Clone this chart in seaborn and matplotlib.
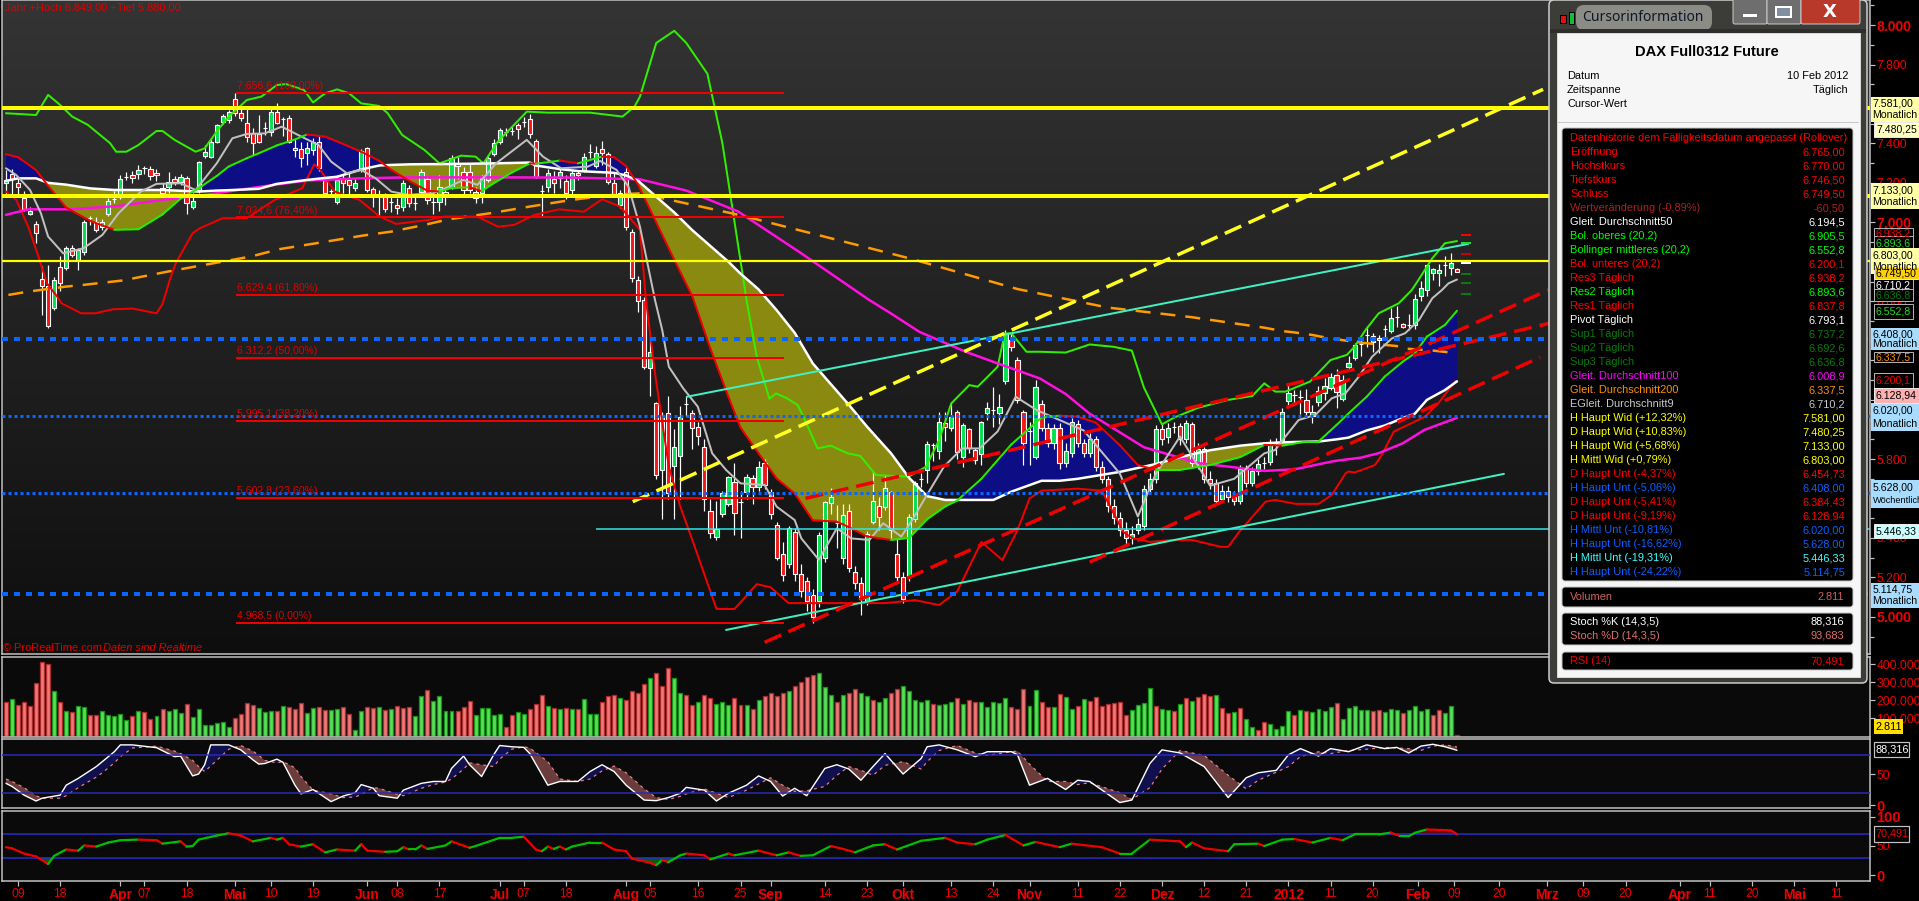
import numpy as np
import pandas as pd
import seaborn as sns
import matplotlib.pyplot as plt
from matplotlib.colors import LinearSegmentedColormap
from matplotlib.patches import FancyBboxPatch, Rectangle

# daily candles
opens = [7198,7245,7198,7122,7041,6992,6712,6675,6564,6776,
         6767,6869,6810,6848,7020,7004,6978,7041,7119,7130,
         7232,7239,7245,7274,7269,7249,7173,7181,7218,7206,
         7223,7076,7164,7338,7333,7409,7511,7519,7624,7553,
         7505,7455,7446,7477,7460,7561,7522,7527,7375,7372,
         7353,7367,7409,7215,7159,7105,7223,7215,7173,7266,
         7375,7169,7139,7130,7105,7088,7076,7173,7100,7156,
         7220,7105,7103,7156,7181,7303,7257,7257,7122,7147,
         7215,7347,7406,7460,7465,7494,7511,7522,7413,7161,
         7181,7218,7223,7210,7164,7252,7266,7358,7286,7370,
         7345,7201,7088,7257,6953,6708,6606,6260,6082,5745,
         6032,5767,5817,6077,6035,5964,5863,5537,5407,5520,
         5572,5685,5581,5635,5706,5660,5778,5635,5464,5320,
         5270,5430,5220,5180,5110,5080,5300,5576,5474,5300,
         5535,5230,5170,5080,5479,5562,5559,5633,5320,5200,
         5200,5496,5700,5745,5871,5842,5981,5956,6040,5809,
         5951,5846,5826,6035,6050,6035,6197,6403,6302,6040,
         5944,5809,6080,5960,5880,5960,5780,5830,5980,5880,
         5830,5900,5760,5700,5560,5500,5440,5400,5440,5460,
         5650,5700,5950,5910,5965,5970,5900,5980,5780,5850,
         5700,5680,5600,5640,5610,5590,5750,5680,5740,5780,
         5787,5883,5897,6096,6125,6117,6100,6018,6088,6133,
         6162,6226,6103,6269,6311,6385,6429,6395,6404,6459,
         6451,6518,6483,6480,6480,6629,6658,6745,6745,6784,
         6771,6765]
closes = [7215,7220,7178,7066,7060,6945,6678,6476,6708,6695,
          6869,6835,6860,7004,7020,6962,7004,7108,7119,7218,
          7232,7223,7266,7274,7237,7239,7151,7206,7206,7232,
          7097,7108,7304,7355,7409,7494,7539,7561,7553,7527,
          7431,7401,7409,7477,7561,7505,7522,7409,7367,7325,
          7375,7409,7274,7147,7159,7215,7198,7190,7201,7363,
          7164,7139,7130,7066,7105,7071,7201,7097,7100,7257,
          7114,7105,7181,7131,7325,7288,7164,7164,7156,7223,
          7325,7404,7468,7460,7465,7472,7511,7446,7232,7161,
          7249,7198,7254,7147,7252,7240,7330,7358,7350,7350,
          7203,7139,7147,6978,6717,6600,6268,6341,5719,6023,
          5630,5863,6015,6077,5956,5917,5598,5424,5444,5626,
          5707,5528,5581,5711,5657,5758,5669,5520,5300,5210,
          5449,5220,5130,5080,5000,5415,5581,5610,5474,5517,
          5250,5170,5090,5420,5588,5508,5652,5440,5200,5090,
          5508,5680,5700,5876,5871,5986,5964,6015,5834,5973,
          5854,5795,5986,6057,6050,6065,6437,6370,6099,5880,
          5944,6163,5960,5880,5960,5780,5840,5990,5880,5830,
          5900,5760,5700,5560,5500,5440,5400,5420,5470,5650,
          5700,5950,5900,5960,5965,5900,5985,5780,5850,5700,
          5680,5590,5640,5610,5590,5750,5680,5740,5775,5780,
          5872,5883,6040,6137,6125,6117,6037,6040,6147,6172,
          6214,6138,6201,6289,6378,6385,6429,6425,6415,6459,
          6513,6518,6471,6480,6610,6666,6784,6762,6756,6784,
          6796,6749.5]
highs = [7265,7270,7230,7160,7080,7005,6780,6785,6725,6830,
         6880,6885,6870,7010,7030,7025,7015,7125,7160,7240,
         7255,7260,7290,7285,7285,7270,7200,7255,7235,7245,
         7235,7150,7310,7390,7420,7500,7550,7570,7656,7590,
         7590,7480,7545,7510,7575,7605,7535,7545,7420,7405,
         7405,7425,7445,7225,7170,7240,7240,7250,7220,7370,
         7380,7180,7165,7150,7145,7125,7215,7190,7130,7270,
         7230,7140,7240,7180,7340,7330,7280,7295,7180,7240,
         7335,7420,7480,7478,7490,7505,7535,7548,7420,7190,
         7270,7260,7270,7240,7260,7265,7350,7395,7385,7410,
         7355,7250,7165,7280,6965,6730,6620,6420,6090,6040,
         6120,5950,6070,6120,6050,5990,5900,5600,5590,5640,
         5715,5780,5640,5725,5720,5790,5800,5650,5480,5380,
         5460,5450,5270,5200,5140,5430,5590,5655,5565,5570,
         5570,5260,5200,5435,5740,5610,5720,5640,5400,5230,
         5520,5690,5730,5890,5880,6040,6040,6090,6050,5985,
         5960,5855,5995,6090,6165,6130,6455,6437,6315,6050,
         5990,6200,6100,5985,5980,5985,5880,6010,6000,5900,
         5930,5915,5790,5715,5600,5530,5480,5460,5500,5670,
         5730,5975,5985,5985,5990,5985,6000,5990,5880,5860,
         5740,5700,5670,5665,5640,5770,5770,5760,5800,5810,
         5900,5905,6060,6175,6150,6150,6157,6075,6170,6210,
         6235,6255,6225,6320,6390,6405,6475,6440,6430,6480,
         6565,6575,6490,6535,6635,6705,6790,6770,6788,6830,
         6845,6770]
lows = [7140,7130,7128,7060,7035,6895,6530,6462,6556,6650,
        6758,6825,6760,6835,6985,6950,6960,7030,7100,7120,
        7215,7200,7220,7245,7215,7210,7130,7150,7190,7190,
        7040,7070,7150,7325,7325,7400,7500,7505,7540,7515,
        7405,7340,7400,7445,7440,7500,7440,7400,7330,7280,
        7290,7340,7260,7140,7130,7095,7140,7140,7160,7255,
        7155,7080,7030,7050,7050,7040,7060,7080,7065,7145,
        7095,7040,7060,7090,7170,7220,7140,7150,7100,7100,
        7205,7335,7395,7440,7445,7420,7485,7425,7225,7030,
        7155,7150,7175,7120,7140,7215,7255,7325,7275,7290,
        7195,7130,7075,6960,6700,6547,6255,6120,5700,5494,
        5600,5494,5600,6020,5850,5870,5535,5400,5390,5505,
        5560,5415,5400,5600,5570,5640,5650,5495,5290,5180,
        5250,5180,5100,5030,4968,5050,5280,5520,5350,5270,
        5230,5140,5010,5060,5470,5440,5540,5400,5180,5070,
        5180,5480,5660,5680,5790,5800,5890,5940,5800,5760,
        5830,5775,5770,6000,5965,5980,6180,6350,6085,5770,
        5770,5800,5940,5860,5850,5750,5760,5810,5860,5810,
        5810,5740,5680,5530,5470,5410,5370,5370,5420,5440,
        5630,5680,5870,5880,5930,5870,5880,5760,5750,5680,
        5650,5570,5580,5580,5565,5570,5660,5665,5720,5750,
        5770,5820,5890,6075,6085,6030,6017,5985,6070,6100,
        6150,6060,6095,6250,6300,6325,6370,6345,6340,6415,
        6440,6470,6465,6455,6460,6600,6625,6710,6678,6730,
        6735,6746.5]

# Bollinger middle and 50 day average share their bars so the cloud can be filled
cloud_x = [0,2,5,7,10,14,18,22,26,29,32,35,37,40,42,45,48,50,53,55,59,62,64,67,70,72,74,77,79,81,84,87,88,92,95,99,101,103,105,
           108,111,114,117,120,122,125,128,131,134,138,140,143,147,150,153,156,158,162,164,167,172,175,178,181,185,188,191,195,
           200,205,209,212,216,218,221,223,226,229,232,234,236,239,241]
boll_mid = [7345,7330,7265,7185,7075,7007,6962,6965,7040,7120,7173,7235,7283,7325,7350,7390,7420,7445,7435,7410,7358,7312,7266,
            7210,7160,7156,7174,7178,7158,7198,7252,7299,7297,7313,7299,7333,7330,7285,7190,
            7000,6810,6625,6360,6115,5960,5829,5702,5626,5490,5483,5455,5408,5390,5400,5495,5560,5590,5700,5770,5875,6010,6020,
            6015,5985,5870,5770,5745,5745,5770,5810,5872,5868,5889,5889,5973,6032,6116,6218,6294,6336,6421,6480,6552]
ma50 = [7210,7223,7223,7200,7191,7172,7164,7164,7164,7160,7156,7161,7163,7167,7170,7195,7207,7215,7225,7231,7268,7288,7291,
        7294,7295,7295,7296,7297,7298,7299,7301,7303,7288,7270,7260,7254,7251,7238,7210,
        7130,7050,6960,6880,6800,6740,6660,6555,6440,6285,6145,6075,5965,5829,5705,5612,5593,5593,5593,5593,5635,5690,5690,
        5700,5715,5735,5755,5775,5810,5845,5868,5880,5885,5888,5889,5900,5909,5945,5970,6008,6030,6100,6150,6194]

upper_x = [0,5,7,9,11,13.6,17.3,18.3,20,22,25,26,28,31.5,33,35,37,40,42.4,45,46.5,49.5,51,53,55,57,59,62,63.4,65.8,69.5,72,73.6,
           75.6,78,79.3,81.7,86.5,90,97,102.4,104.4,105.3,108,111,113,116.5,119,123,124.7,126.8,127.9,129.7,131.5,132.7,134.8,
           137,139.8,141.9,144.5,149.9,152.8,155,157,160,161.4,164.7,165.9,167,169.5,171.7,176,180,184,187,189,192,194,198,203,
           207,209,210.8,212.5,216.6,220,222.7,224,225.8,228,231.3,233.5,234.6,236.9,239,241]
upper_y = [7553,7544,7646,7595,7536,7494,7401,7358,7358,7392,7463,7463,7418,7358,7375,7460,7536,7620,7637,7696,7701,7671,7608,
           7654,7674,7654,7603,7590,7553,7443,7367,7299,7316,7338,7333,7299,7409,7561,7556,7556,7536,7587,7637,7909,7971,7909,
           7753,7400,6606,6319,6106,6133,6108,6074,5998,5854,5868,5829,5816,5719,5711,5761,5897,6082,6175,6167,6268,6437,6437,
           6344,6344,6340,6381,6369,6350,6163,5976,6010,6060,6100,6120,6184,6142,6142,6193,6302,6328,6370,6454,6539,6589,6657,
           6708,6818,6894,6905]
lower_x = [0,1.7,3.7,5.4,6.8,8.5,9.2,12.5,14.8,17.7,21,25,26,27.2,28.2,31,32.2,36,40,44.6,49.2,51.2,52.2,54.6,58.7,62.1,64.8,
           70.2,72.9,78.3,81.7,84.4,87.8,91.9,96,99,102,105.3,106.3,107.8,110.1,112,114,118,121,124.7,127,130,138,146,151,155,
           158,162,165.5,168,170,172,178,182,185.6,187,190,193.6,197,201.8,203,204.8,209.2,210.8,214.2,218,220.2,222.5,223,224,
           227.4,228.5,230.5,235.7,237.9,240.7]
lower_y = [7156,7114,6978,6826,6691,6624,6590,6539,6539,6559,6563,6539,6586,6708,6793,6945,6970,7021,7021,7113,7173,7294,7266,
           7156,7114,7029,6992,7012,7029,7029,6978,6987,7038,7066,7054,7117,7080,6962,6606,6234,5761,5559,5390,5041,5040,5166,
           5150,5070,5070,5070,5085,5060,5130,5380,5288,5440,5600,5640,5650,5640,5430,5400,5380,5390,5390,5355,5355,5430,5584,
           5593,5573,5573,5618,5728,5737,5732,5770,5821,5939,6015,6083,6195]
ma100_x = [0,3.7,10.5,18.7,26,33,42.4,50,58.7,66.8,80.4,94,105.3,113,121.6,131.8,143.4,147,151.7,159.4,164.7,171.7,176,180,189,
           198,209,214,220.6,225,228,232,235.6,241]
ma100_y = [7038,7066,7066,7083,7114,7139,7181,7212,7223,7228,7228,7227,7218,7161,7055,6849,6606,6538,6445,6344,6285,6209,6130,
           6030,5860,5780,5740,5748,5790,5807,5830,5880,5948,6009]
ma200_x = [0.4,3.7,9.9,12.9,19.3,26.8,32.9,40.7,45.4,51.5,59.3,64,69.5,73.6,80.4,87,94,100.7,105.3,122,150,168,183,197,209,212,
           214,217,219,222,225,231,232,237,241]
ma200_y = [6632,6649,6674,6683,6705,6750,6784,6827,6864,6894,6933,6953,6987,7016,7046,7080,7114,7139,7147,7036,6818,6662,6568,
           6519,6466,6449,6442,6429,6417,6403,6390,6373,6361,6350,6337]
ema9_x = [0,1.7,4,5.8,7,9.5,12.9,16,18.7,22.4,25,29,31.5,35,37.6,40,43,45.8,48.5,51.9,54,56.6,59,61.4,64,66.8,70.9,73.6,76,78.3,
          81.4,86.5,89.2,92.2,96.6,98.7,101.4,103.4,105.3,107.8,109,110.1,112.5,114.9,117.3,119.6,122,126,128,131,132.1,135,
          138,140.4,143.4,145.7,148.7,150.5,152.8,155.8,158.8,161.7,164.7,167.7,171.2,179,185,188,191,195,200,204,209,210.8,
          212.5,214.7,217.5,220.2,222.5,224.7,226.9,230.2,232.4,234.7,236.9,238.5,239.6,241]
ema9_y = [7274,7240,7164,7046,6928,6843,6869,6936,7046,7156,7195,7198,7164,7299,7426,7448,7451,7485,7443,7392,7308,7249,7266,
          7223,7156,7139,7147,7181,7215,7190,7299,7418,7333,7274,7282,7311,7266,7181,6978,6606,6454,6268,6158,6066,5829,5745,
          5677,5669,5559,5491,5398,5290,5449,5398,5390,5475,5407,5490,5610,5762,5854,5854,5940,6116,6048,5945,5727,5509,5727,
          5914,5665,5700,5829,5846,5914,5998,6024,6108,6134,6218,6319,6412,6438,6505,6615,6657,6691,6710]

pivot_levels = [6938.2, 6893.6, 6837.8, 6793.1, 6737.2, 6692.6, 6636.8]
pivot_colours = ["#ff0000", "#22dd22", "#cc0000", "#ffffff", "#0a7a0a", "#0a7a0a", "#0a7a0a"]

yellow_levels = [7581, 7133, 6803]
blue_thick_levels = [6408, 5114.75]
blue_dotted_levels = [6020, 5628]
cyan_level = 5446.33
fib_levels = [7656.6, 7024.6, 6629.4, 6312.2, 5995.1, 5602.8, 4968.5]
fib_text = ["7.656,6 (100,00%)", "7.024,6 (76,40%)", "6.629,4 (61,80%)", "6.312,2 (50,00%)",
            "5.995,1 (38,20%)", "5.602,8 (23,60%)", "4.968,5 (0,00%)"]

trend_yellow = ([104.1, 255.3], [5584, 7674])
trend_turq_up = ([113.1, 242.9], [6116, 6891])
trend_turq_low = ([119.6, 248.8], [4934, 5725])
trend_red_a = ([132.8, 258], [5601, 6500])
trend_red_b = ([126, 256.2], [4871, 6657])
trend_red_d = ([180, 254.8], [5278, 6316])

# volume in thousands, r/g per bar
volume = [187,204,170,187,165,292,409,398,248,187,137,131,165,159,115,115,137,115,109,120,87,109,137,131,93,109,148,137,148,126,
          176,104,148,59,59,70,76,48,98,120,181,170,154,131,137,137,165,159,148,181,126,154,159,142,142,148,159,120,31,137,
          159,154,159,142,148,165,154,159,109,220,253,192,220,137,137,137,159,192,115,154,154,115,120,48,115,131,120,148,176,226,
          165,154,148,154,148,148,204,120,120,
          190,220,230,210,200,250,240,290,320,350,280,380,320,240,230,170,190,230,210,180,190,170,210,170,170,150,200,220,240,220,
          240,250,280,300,330,340,350,270,230,190,230,240,260,240,220,200,190,210,240,260,280,250,200,190,200,180,170,180,190,210,180,
          200,190,190,160,190,
          181,209,159,148,259,165,253,187,159,159,231,215,148,165,204,192,215,165,176,181,187,115,142,170,181,265,165,148,142,137,
          176,209,192,215,231,220,226,154,126,131,154,93,48,31,76,65,37,54,137,115,142,137,131,148,137,159,181,93,154,165,142,142,
          137,142,131,148,142,126,142,165,137,148,115,142,126,165,3]
volume_dir = ("rgrrrrrrgr" "grggrrgggg" "grgrrgrggg" "rgggggggrr" "rrgggrgrrr" "ggrrggrrgg" "rrgrgrrrgg" "rggggrrrgg"
              "gggrrggrrr" "grgrgrggg" "r" "rrgrrrrgrr" "rggrrgrrgg" "grrgrgrrrr" "grrrrgggrg" "rrggrggrrg" "ggggrgggrg" "rrggg"
              "ggrrrggrrg" "rggrgrrrrr" "rrggggrggr" "grgrrrgrrg" "rggrrggggr" "grggggrggg" "ggrrgggrgg" "ggrrggr")

stoch_x = [0,1,3,5,6,9,10,12,15,16,18,19,21,25,28,29,31,32,33,34,37,39,41,42,43,45,46,48,49,51,54,56,58,59,61,62,65,66,69,71,73,
           74,76,77,79,81,82,84,86,87,90,92,95,97,99,101,103,106,108,110,112,113,116,118,120,123,125,127,129,131,133,136,138,
           140,142,144,146,149,152,153,155,158,161,163,167,168,170,173,176,178,180,185,187,190,192,195,199,203,206,208,211,213,
           215,218,220,223,226,229,231,233,235,237,239,241]
stoch_k = [35,30,16,6.5,11,16,32,43,62,70,86,97,97,92.5,78,79,47,50,65,97,97,89,73,66,67,74,69,32,18,25,5.5,14.5,20,33,27,15,11,
           24,35,38,38,59,79,65,46,81,96,94,93,83,32,38,38,54,65,54,32,8,7,12,19,28.5,24,6.5,19,32,47,38,14.5,27,15,59,65,58,40,
           62,83,50,75,94,97,89,78,86,86,81,32,43,25,40,38,4,8,67,89,84,62,12,44,52,56,81,91,79,91,86,97,91,93,84,95,98,94,88.3]
stoch_d = [42,38,28,15,11,11,15,28,45,52,68,78,92,95,87,83,72,62,54,63,90,96,87,80,72,68,70,60,46,24,18,12,13,17,28,27,17,15,
           27,33,37,42,58,68,65,62,74,90,94,92,70,42,38,42,55,63,52,26,12,9,14,18,26,19,12,24,34,44,32,22,23,30,48,62,56,48,64,
           70,58,70,88,96,84,80,86,87,66,38,38,33,36,20,9,28,58,88,80,48,26,40,53,62,78,86,83,88,90,93,92,91,88,95,97,93.7]

rsi_x = [0,1,3,5,7,8,10,12,13,15,17,19,22,25,26,29,30,31,32,35,37,39,41,44,45,46,47,49,51,53,55,58,59,60,63,65,66,67,68,69,70,73,
         74,77,78,82,84,86,88,89,90,91,92,93,94,97,99,101,103,104,105,107,108,109,110,112,113,116,117,120,121,125,128,130,132,
         134,137,139,141,144,146,148,152,156,158,161,163,166,169,171,175,177,182,185,187,190,195,196,197,199,203,204,208,209,
         212,214,217,220,222,224,228,230,231.6,233,234,236,240,241]
rsi_y = [48,46,37,32,19,33,44,42,51,49,56,60,61,60,54,58,49,50,61,68,72,68,58,64,61,64,53,49,53,39,44,42,53,42,40,41,48,44,44,51,
         45,51,58,47,50,64,64,66,44,41,49,45,49,44,49,56,56,44,41,28,26,21,17,26,22,34,37,34,27,37,34,42,34,39,33,34,50,45,39,51,
         53,44,59,64,56,53,61,69,51,57,48,54,48,37,37,61,58,48,56,46,41,53,54,50,61,62,56,64,60,70,70,73,67,67,72.7,78.5,77,70.5]

tick_bars = [2,9,19,23,30,38,44,51,60,65,72,82,86,93,103,107,115,122,127,136,143,149,157,164,170,178,185,192,199,206,213,220,227,
             234.5,240.5,248,256,262,269,278,283,290,297,304]
tick_text = ["09","18","Apr","07","18","Mai","10","19","Jun","08","17","Jul","07","18","Aug","05","16","25","Sep","14","23","Okt",
             "13","24","Nov","11","22","Dez","12","21","2012","11","20","Feb","09","20","Mrz","09","20","Apr","11","20","Mai","11"]

rows = [("Datenhistorie dem Fälligkeitsdatum angepasst (Rollover)", "", "#ff0000"),
        ("Eröffnung", "6.765,00", "#ff0000"), ("Höchstkurs", "6.770,00", "#ff0000"),
        ("Tiefstkurs", "6.746,50", "#ff0000"), ("Schluss", "6.749,50", "#ff0000"),
        ("Wertveränderung (-0,89%)", "-60,50", "#b02020"), ("Gleit. Durchschnitt50", "6.194,5", "#ffffff"),
        ("Bol. oberes (20,2)", "6.905,5", "#00ff00"), ("Bollinger mittleres (20,2)", "6.552,8", "#00ff00"),
        ("Bol. unteres (20,2)", "6.200,1", "#ff0000"), ("Res3 Täglich", "6.938,2", "#ff0000"),
        ("Res2 Täglich", "6.893,6", "#00ff00"), ("Res1 Täglich", "6.837,8", "#ff0000"),
        ("Pivot Täglich", "6.793,1", "#ffffff"), ("Sup1 Täglich", "6.737,2", "#0a7a0a"),
        ("Sup2 Täglich", "6.692,6", "#0a7a0a"), ("Sup3 Täglich", "6.636,8", "#0a7a0a"),
        ("Gleit. Durchschnitt100", "6.008,9", "#ff00ff"), ("Gleit. Durchschnitt200", "6.337,5", "#ff9000"),
        ("EGleit. Durchschnitt9", "6.710,2", "#c8c8c8"), ("H Haupt Wid (+12,32%)", "7.581,00", "#ffff00"),
        ("D Haupt Wid (+10,83%)", "7.480,25", "#ffff00"), ("H Haupt Wid (+5,68%)", "7.133,00", "#ffff00"),
        ("H Mittl Wid (+0,79%)", "6.803,00", "#ffff00"), ("D Haupt Unt (-4,37%)", "6.454,73", "#ff0000"),
        ("H Haupt Unt (-5,06%)", "6.408,00", "#0a60ff"), ("D Haupt Unt (-5,41%)", "6.384,43", "#ff0000"),
        ("D Haupt Unt (-9,19%)", "6.128,94", "#ff0000"), ("H Mittl Unt (-10,81%)", "6.020,00", "#0a60ff"),
        ("H Haupt Unt (-16,62%)", "5.628,00", "#0a60ff"), ("H Mittl Unt (-19,31%)", "5.446,33", "#40ffff"),
        ("H Haupt Unt (-24,22%)", "5.114,75", "#0a60ff")]

W, H = 1919, 901
sns.set_theme(style="dark", rc={"axes.grid": False})
plt.rcParams['font.family'] = ['Liberation Sans', 'DejaVu Sans']
fig = plt.figure(figsize=(W / 100, H / 100), dpi=100, facecolor="black")


def px(n):
    return n * 0.72


def panel(top, bottom, ylim):
    ax = fig.add_axes([2 / W, 1 - bottom / H, 1868 / W, (bottom - top) / H], facecolor="#0a0a0a")
    for side in ax.spines.values():
        side.set_color("#c4c4c4")
        side.set_linewidth(px(1.5))
    ax.set_ylim(*ylim)
    ax.yaxis.tick_right()
    ax.tick_params(axis="y", which="major", length=px(5), width=px(1.2), color="#c4c4c4", labelcolor="#f00000",
                   labelsize=8.8, pad=1, left=False, right=True)
    ax.tick_params(axis="y", which="minor", length=px(4), width=px(1.2), color="#c4c4c4", left=False, right=True)
    ax.tick_params(axis="x", bottom=False, labelbottom=False)
    return ax


def draw(ax, x, y, colour, width, dash=None, z=3):
    kw = {}
    if dash:
        kw["linestyle"] = (0, (dash[0] / width, dash[1] / width))
    sns.lineplot(x=x, y=y, ax=ax, color=colour, linewidth=px(width), estimator=None, sort=False,
                 errorbar=None, legend=False, zorder=z, **kw)


def slope_line(ax, x, y, up, down, width, z=3):
    for i in range(len(x) - 1):
        c = up if y[i + 1] >= y[i] else down
        ax.plot(x[i:i + 2], y[i:i + 2], color=c, lw=px(width), zorder=z, solid_capstyle="round")


bars = np.arange(len(opens))
xlim = (-0.66, 309.6)
o, c = np.array(opens, float), np.array(closes, float)

# price panel
ax = panel(0, 654, (4812, 8127))
ramp = LinearSegmentedColormap.from_list("bg", ["#343434", "#0e0e0e"])
ax.imshow(np.linspace(0, 1, 256)[:, None], aspect="auto", cmap=ramp, extent=(xlim[0], xlim[1], 4812, 8127), zorder=0)

mid, m50 = np.array(boll_mid, float), np.array(ma50, float)
ax.fill_between(cloud_x, mid, m50, where=mid >= m50, interpolate=True, color="#0d0d85", lw=0, zorder=1)
ax.fill_between(cloud_x, mid, m50, where=mid < m50, interpolate=True, color="#8a8a10", lw=0, zorder=1)

body_col = ["#ffffff" if a == b else ("#00e050" if b > a else "#f01818") for a, b in zip(o, c)]
ax.vlines(bars, lows, highs, color="white", lw=px(1.2), zorder=2)
ax.bar(bars, np.abs(c - o), bottom=np.minimum(o, c), width=0.7, color=body_col, edgecolor="white", linewidth=px(1.1), zorder=2.5)

draw(ax, upper_x, upper_y, "#33ee00", 2)
draw(ax, lower_x, lower_y, "#f00000", 2)
draw(ax, ma100_x, ma100_y, "#ff10e0", 2.5)
draw(ax, ma200_x, ma200_y, "#ff9a00", 2.5, dash=(15, 10))
draw(ax, cloud_x, ma50, "white", 2.5)
draw(ax, ema9_x, ema9_y, "#c0c0c0", 2)
slope_line(ax, cloud_x, boll_mid, "#22ee00", "#f00000", 2)

draw(ax, *trend_turq_up, "#40f0c0", 2, z=4)
draw(ax, *trend_turq_low, "#40f0c0", 2, z=4)
draw(ax, *trend_yellow, "#ffff20", 3.5, dash=(18, 8), z=4)
draw(ax, *trend_red_a, "#f00000", 3.5, dash=(18, 8), z=4)
draw(ax, *trend_red_b, "#f00000", 3.5, dash=(18, 8), z=4)
draw(ax, *trend_red_d, "#f00000", 3.5, dash=(18, 8), z=4)

for lev, width in zip(yellow_levels, (4, 4, 2.2)):
    ax.axhline(lev, color="#ffff00", lw=px(width), zorder=5)
for lev in blue_thick_levels:
    ax.axhline(lev, color="#0a66ff", lw=px(4), linestyle=(0, (1.5, 1.5)), zorder=5)
for lev in blue_dotted_levels:
    ax.axhline(lev, color="#0a66ff", lw=px(3), linestyle=(0, (1, 1)), zorder=5)
ax.hlines(cyan_level, 98, xlim[1], color="#30e8e8", lw=px(1.5), zorder=5)
ax.hlines(fib_levels, 38.2, 129.2, color="#f00000", lw=px(2), zorder=5)
for lev, txt in zip(fib_levels, fib_text):
    ax.text(38.4, lev + 10, txt, color="#e00000", fontsize=7.6, va="bottom", ha="left", zorder=5)
ax.hlines(pivot_levels, 241.7, 243.4, color=pivot_colours, lw=px(2), zorder=5)

ax.set_yticks(np.arange(5000, 8001, 200))
ax.set_yticks(np.arange(4900, 8101, 100), minor=True)
ax.set_yticklabels([f"{v // 1000}.{v % 1000:03d}" for v in range(5000, 8001, 200)])
for lab, v in zip(ax.get_yticklabels(), range(5000, 8001, 200)):
    if v % 1000 == 0:
        lab.set_fontweight("bold")
        lab.set_fontsize(10)

# volume
ax_v = panel(657, 737, (-5.5, 439))
vol = pd.DataFrame({"bar": bars, "volume": volume, "dir": list(volume_dir)})
for key, fill, edge in (("g", "#58e058", "#169016"), ("r", "#f07878", "#a82c2c")):
    sns.barplot(data=vol[vol["dir"] == key], x="bar", y="volume", native_scale=True, width=0.66, color=fill,
                edgecolor=edge, linewidth=px(1.3), saturation=1, ax=ax_v, zorder=2)
ax_v.set_yticks([100, 200, 300, 400])
ax_v.set_yticklabels(["100.000", "200.000", "300.000", "400.000"])

# stochastic
ax_s = panel(739, 808, (-4.8, 106.5))
k, d = np.array(stoch_k, float), np.array(stoch_d, float)
ax_s.fill_between(stoch_x, k, d, where=k >= d, interpolate=True, color="#10104e", lw=0, zorder=1)
ax_s.fill_between(stoch_x, k, d, where=k < d, interpolate=True, color="#6b3c3c", lw=0, zorder=1)
draw(ax_s, stoch_x, stoch_d, "#f08080", 1.2, dash=(3, 4), z=2)
draw(ax_s, stoch_x, stoch_k, "white", 1.4, z=3)
for lev in (80, 20):
    ax_s.axhline(lev, color="#2a2ab8", lw=px(1.5), zorder=4)
ax_s.set_yticks([0, 50])
ax_s.set_yticklabels(["0", "50"])
ax_s.get_yticklabels()[0].set_fontweight("bold")
ax_s.get_yticklabels()[0].set_fontsize(10.5)

# rsi
ax_r = panel(811, 881, (-10.3, 110.3))
ry = np.array(rsi_y, float)
ax_r.fill_between(rsi_x, ry, 30, where=ry < 30, interpolate=True, color="#0c5c0c", lw=0, zorder=1)
ax_r.fill_between(rsi_x, ry, 70, where=ry > 70, interpolate=True, color="#5c0c0c", lw=0, zorder=1)
for lev in (70, 30):
    ax_r.axhline(lev, color="#2a2ad0", lw=px(1.5), zorder=2)
slope_line(ax_r, rsi_x, rsi_y, "#00c000", "#f00000", 2.2)
ax_r.set_yticks([0, 50, 100])
ax_r.set_yticklabels(["0", "50", "100"])
for i in (0, 2):
    ax_r.get_yticklabels()[i].set_fontweight("bold")
    ax_r.get_yticklabels()[i].set_fontsize(10.5)
ax_r.set_xticks(tick_bars)
ax_r.set_xticklabels(tick_text)
ax_r.tick_params(axis="x", bottom=True, labelbottom=True, length=px(5), width=px(1.2), color="#c4c4c4",
                 labelcolor="#f00000", labelsize=8.8, pad=1.5)
for lab, txt in zip(ax_r.get_xticklabels(), tick_text):
    if not txt.isdigit() or txt == "2012":
        lab.set_fontweight("bold")
        lab.set_fontsize(10)

for a in (ax, ax_v, ax_s, ax_r):
    a.set_xlim(*xlim)
    a.set_ylabel("")
    a.set_xlabel("")

# everything drawn on top of the chart, in screen pixels
ov = fig.add_axes([0, 0, 1, 1], zorder=50)
ov.set_xlim(0, W)
ov.set_ylim(H, 0)
ov.axis("off")


def box(x0, y0, x1, y1, face, edge="none", lw=1.0, z=2):
    ov.add_patch(Rectangle((x0, y0), x1 - x0, y1 - y0, facecolor=face, edgecolor=edge, linewidth=px(lw), zorder=z))


def rbox(x0, y0, x1, y1, face, edge="none", lw=1.0, r=3, z=2):
    ov.add_patch(FancyBboxPatch((x0 + r, y0 + r), x1 - x0 - 2 * r, y1 - y0 - 2 * r, boxstyle=f"round,pad={r}",
                                facecolor=face, edgecolor=edge, linewidth=px(lw), zorder=z))


def label(x, y, txt, colour, size=7.9, ha="left", weight="normal", style="normal", fam=None, z=6):
    ov.text(x, y, txt, color=colour, fontsize=size, ha=ha, va="center", fontweight=weight, style=style,
            family=fam or ["Liberation Sans", "DejaVu Sans"], zorder=z)


label(5, 8, "Jahr:+Hoch 6.849,00 +Tief 5.880,00", "#e00000", size=7.9)
label(3, 648, "© ProRealTime.com", "#e00000", size=7.9)
label(103, 648, "Daten sind Realtime", "#e00000", size=7.9, style="italic")

# price tags right of the axis
tags = [(1871, 97, 122, "7.581,00", "Monatlich", "#ffffa8"), (1871, 183, 209, "7.133,00", "Monatlich", "#ffffa8"),
        (1871, 248, 274, "6.803,00", "Monatlich", "#ffffa8"), (1871, 328, 350, "6.408,00", "Monatlich", "#a8dcff"),
        (1871, 403, 431, "6.020,00", "Monatlich", "#a8dcff"), (1871, 480, 508, "5.628,00", "Wöchentlich", "#a8dcff"),
        (1871, 583, 608, "5.114,75", "Monatlich", "#a8dcff")]
for x0, y0, y1, a, b, face in tags:
    box(x0, y0, W, y1, face, z=3)
    label(x0 + 1.5, y0 + (y1 - y0) * 0.28, a, "black", size=7.6, z=7)
    label(x0 + 1.5, y0 + (y1 - y0) * 0.74, b, "black", size=6.6 if len(b) > 9 else 7.6, z=7)
framed = [(228, 240, "6.938,2", "#f00000"), (236, 250, "6.893,6", "#22dd22"), (279, 291, "6.710,2", "#ffffff"),
          (289, 301, "6.636,8", "#0a7a0a"), (304, 319, "6.552,8", "#22dd22"), (352, 362, "6.337,5", "#ff9000"),
          (373, 388, "6.200,1", "#f00000")]
for y0, y1, txt, colour in framed:
    box(1874, y0, 1913, y1, "black", edge="#b0b0b0", z=2)
    label(1876, (y0 + y1) / 2, txt, colour, size=7.6, z=3)
solid = [(122, 137, "7.480,25", "#ffffc0"), (267, 279, "6.749,50", "#ffd000"), (388, 403, "6.128,94", "#ffb0b0"),
         (524, 538, "5.446,33", "#c8ffff")]
for y0, y1, txt, face in solid:
    box(1874, y0, W, y1, face, edge="#e8e8e8", z=4)
    label(1876, (y0 + y1) / 2, txt, "black", size=7.6, z=7)
box(1874, 719, 1903, 734, "#ffe000", z=4)
label(1876, 726.5, "2.811", "black", size=7.8, z=7)
box(1874, 742, 1909, 757, "black", edge="#c4c4c4", lw=1.2, z=4)
label(1876, 749.5, "88,316", "white", size=7.8, z=7)
box(1874, 826, 1909, 842, "black", edge="#c4c4c4", lw=1.2, z=4)
label(1876, 834, "70,491", "#f00000", size=7.8, z=7)

# cursor window
rbox(1549, 0, 1867, 683, "#3c3c38", edge="#d0d0d0", lw=1.5, r=5, z=8)
rbox(1576, 5, 1712, 30, "#8c8c86", r=8, z=8.5)
box(1550, 29, 1866, 33, "#2e2e2c", z=8.6)
rbox(1733, -6, 1767, 24, "#6e6e6e", edge="#c8c8c8", r=2, z=9)
rbox(1767, -6, 1801, 24, "#6e6e6e", edge="#c8c8c8", r=2, z=9)
rbox(1801, -6, 1860, 24, "#b8392a", edge="#c8c8c8", r=2, z=9)
box(1743, 14, 1757, 17, "white", z=10)
box(1776, 7, 1791, 17, "#8090a0", edge="white", lw=2, z=10)
label(1830, 12, "X", "white", size=13, ha="center", weight="bold", fam=["DejaVu Sans"], z=10)
box(1560, 15, 1566, 23, "#e01010", edge="black", z=9)
box(1569, 12, 1574, 24, "#10c030", edge="black", z=9)
label(1582, 17.5, "Cursorinformation", "#101828", size=10, fam=["Noto Sans", "DejaVu Sans"], z=10)
box(1557, 33, 1860, 677, "#f6f6f6", edge="#d8d8d8", z=9)
box(1558, 122, 1859, 123, "#c8c8c8", z=10)
label(1707, 52, "DAX Full0312 Future", "black", size=10.6, ha="center", weight="bold", z=10)
for y, left, right in ((76, "Datum", "10 Feb 2012"), (90, "Zeitspanne", "Täglich"), (104, "Cursor-Wert", "")):
    label(1567, y, left, "black", z=10)
    label(1848, y, right, "black", ha="right", z=10)
for y0, y1 in ((128, 581), (587, 607), (613, 645), (652, 670)):
    rbox(1562, y0, 1853, y1, "black", edge="#c8c8c8", r=3, z=9)
for i, (name, value, colour) in enumerate(rows):
    y = 138.3 + 14 * i
    label(1570, y, name, colour, z=10)
    label(1845, y, value, colour, ha="right", z=10)
for y, name, value, colour in ((597, "Volumen", "2.811", "#d06060"), (622, "Stoch %K (14,3,5)", "88,316", "#ffffff"),
                               (636, "Stoch %D (14,3,5)", "93,683", "#e07070"), (661, "RSI (14)", "70,491", "#f00000")):
    label(1570, y, name, colour, z=10)
    label(1844, y, value, colour, ha="right", z=10)

fig.savefig("out.png", dpi=100, facecolor="black")
